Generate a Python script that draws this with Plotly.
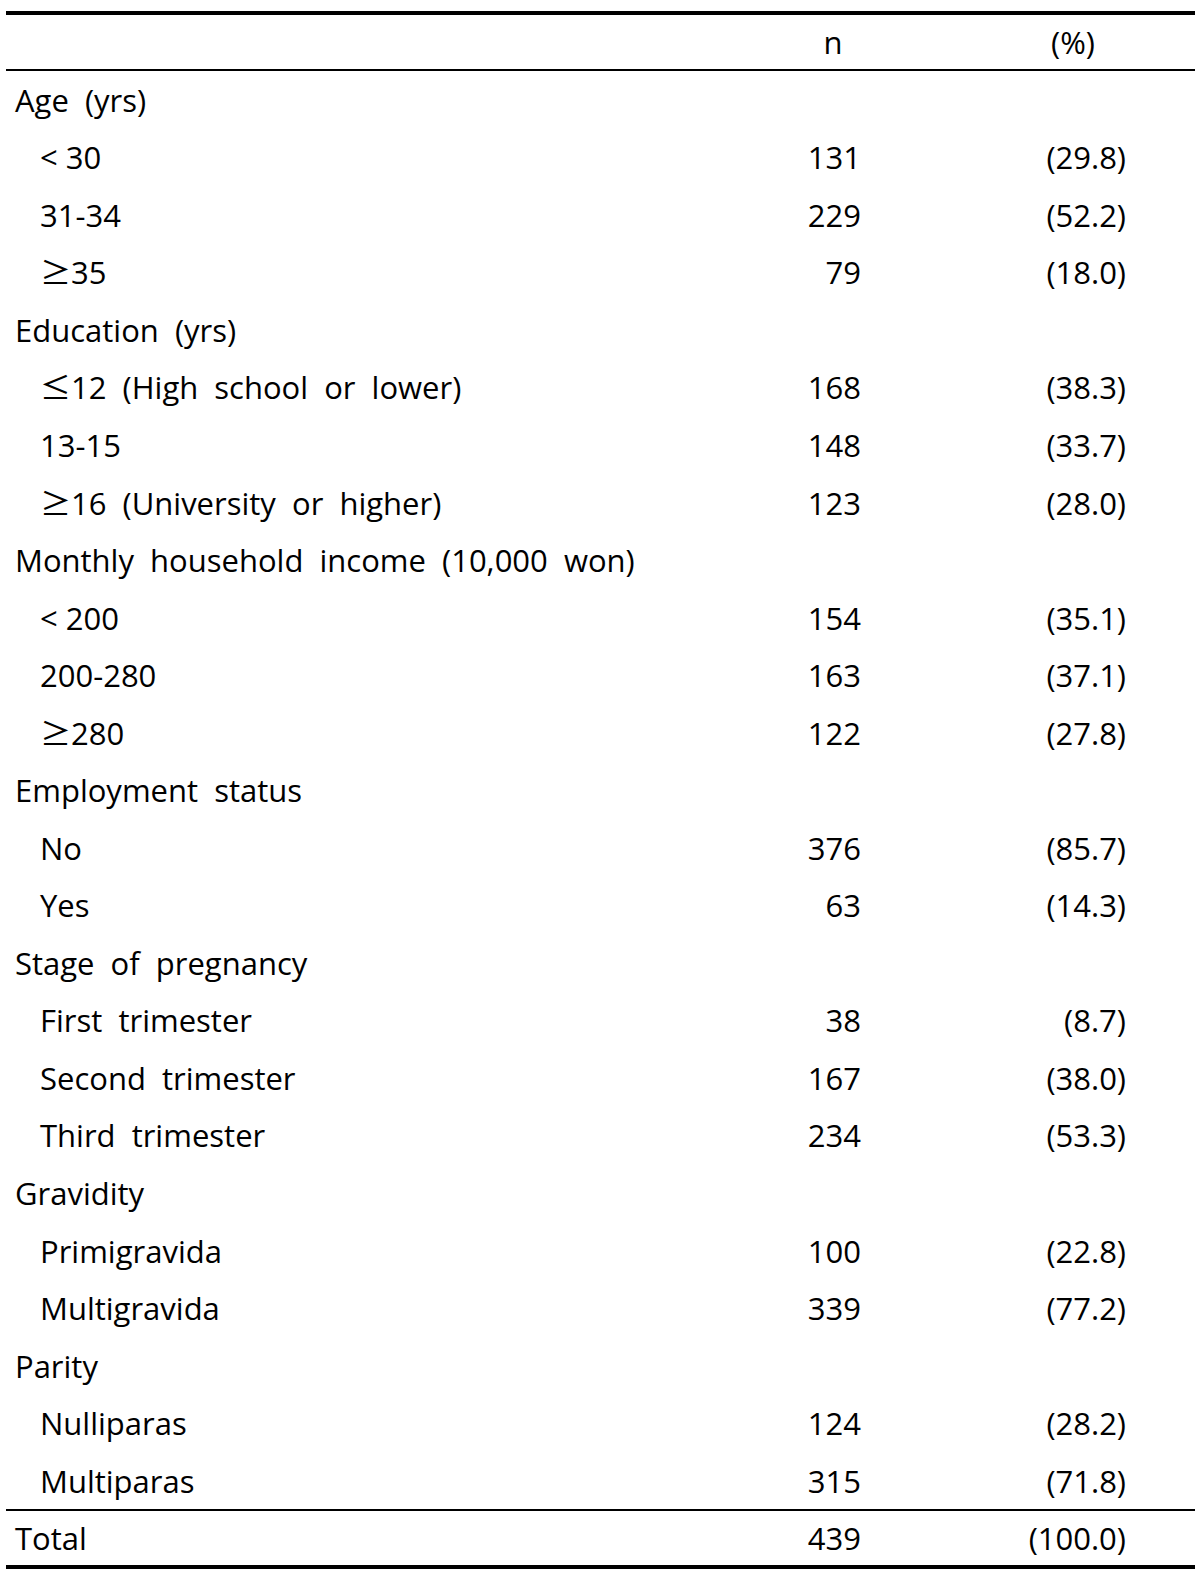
import plotly.graph_objects as go

# ---- data ----
header_cols = ["n", "(%)"]
labels = [
    "Age  (yrs)", "< 30", "31-34", "≥35",
    "Education  (yrs)", "≤12  (High  school  or  lower)", "13-15", "≥16  (University  or  higher)",
    "Monthly  household  income  (10,000  won)", "< 200", "200-280", "≥280",
    "Employment  status", "No", "Yes",
    "Stage  of  pregnancy", "First  trimester", "Second  trimester", "Third  trimester",
    "Gravidity", "Primigravida", "Multigravida",
    "Parity", "Nulliparas", "Multiparas",
    "Total",
]
is_group = [True, False, False, False,
            True, False, False, False,
            True, False, False, False,
            True, False, False,
            True, False, False, False,
            True, False, False,
            True, False, False,
            True]
n_vals = ["", "131", "229", "79",
          "", "168", "148", "123",
          "", "154", "163", "122",
          "", "376", "63",
          "", "38", "167", "234",
          "", "100", "339",
          "", "124", "315",
          "439"]
pct_vals = ["", "(29.8)", "(52.2)", "(18.0)",
            "", "(38.3)", "(33.7)", "(28.0)",
            "", "(35.1)", "(37.1)", "(27.8)",
            "", "(85.7)", "(14.3)",
            "", "(8.7)", "(38.0)", "(53.3)",
            "", "(22.8)", "(77.2)",
            "", "(28.2)", "(71.8)",
            "(100.0)"]

# ---- layout geometry ----
W, H = 1200, 1582
FONT = "Open Sans"
SYM_FONT = "Noto Sans CJK KR"
FS = 31
row0_y = 104
row_h = 57.54
header_y = 46
x_group = 15
x_sub = 40
x_n = 861
x_pct = 1126
x_n_head = 833
x_pct_head = 1073


def fmt(s):
    s = s.replace(" ", "\u00a0")
    for sym in ("≥", "≤"):
        s = s.replace(sym, f"<span style='font-family:{SYM_FONT}'>{sym}</span>")
    return s


ys = [row0_y + i * row_h for i in range(len(labels))]
disp = [fmt(s) for s in labels]
xl = [x_group if g else x_sub for g in is_group]

tf = dict(family=FONT, size=FS, color="#000")
fig = go.Figure()
fig.add_trace(go.Scatter(x=xl, y=ys, mode="text", text=disp,
                         textposition="middle right", textfont=tf,
                         hoverinfo="skip", showlegend=False))
fig.add_trace(go.Scatter(x=[x_n] * len(ys), y=ys, mode="text", text=n_vals,
                         textposition="middle left", textfont=tf,
                         hoverinfo="skip", showlegend=False))
fig.add_trace(go.Scatter(x=[x_pct] * len(ys), y=ys, mode="text", text=pct_vals,
                         textposition="middle left", textfont=tf,
                         hoverinfo="skip", showlegend=False))
fig.add_trace(go.Scatter(x=[x_n_head, x_pct_head], y=[header_y, header_y], mode="text",
                         text=header_cols, textposition="middle center", textfont=tf,
                         hoverinfo="skip", showlegend=False))

lines = [(13, 4), (70, 2), (1510, 2), (1567, 4)]
for y, w in lines:
    fig.add_shape(type="line", x0=6, x1=1195, y0=y, y1=y, xref="x", yref="y",
                  line=dict(color="#000", width=w))

fig.update_layout(
    width=W, height=H, margin=dict(l=0, r=0, t=0, b=0),
    paper_bgcolor="white", plot_bgcolor="white",
    xaxis=dict(range=[0, W], visible=False, fixedrange=True),
    yaxis=dict(range=[H, 0], visible=False, fixedrange=True),
)
fig.write_html("out.html", config={"displayModeBar": False},
               post_script="document.body.style.margin='0';document.body.style.overflow='hidden';")
